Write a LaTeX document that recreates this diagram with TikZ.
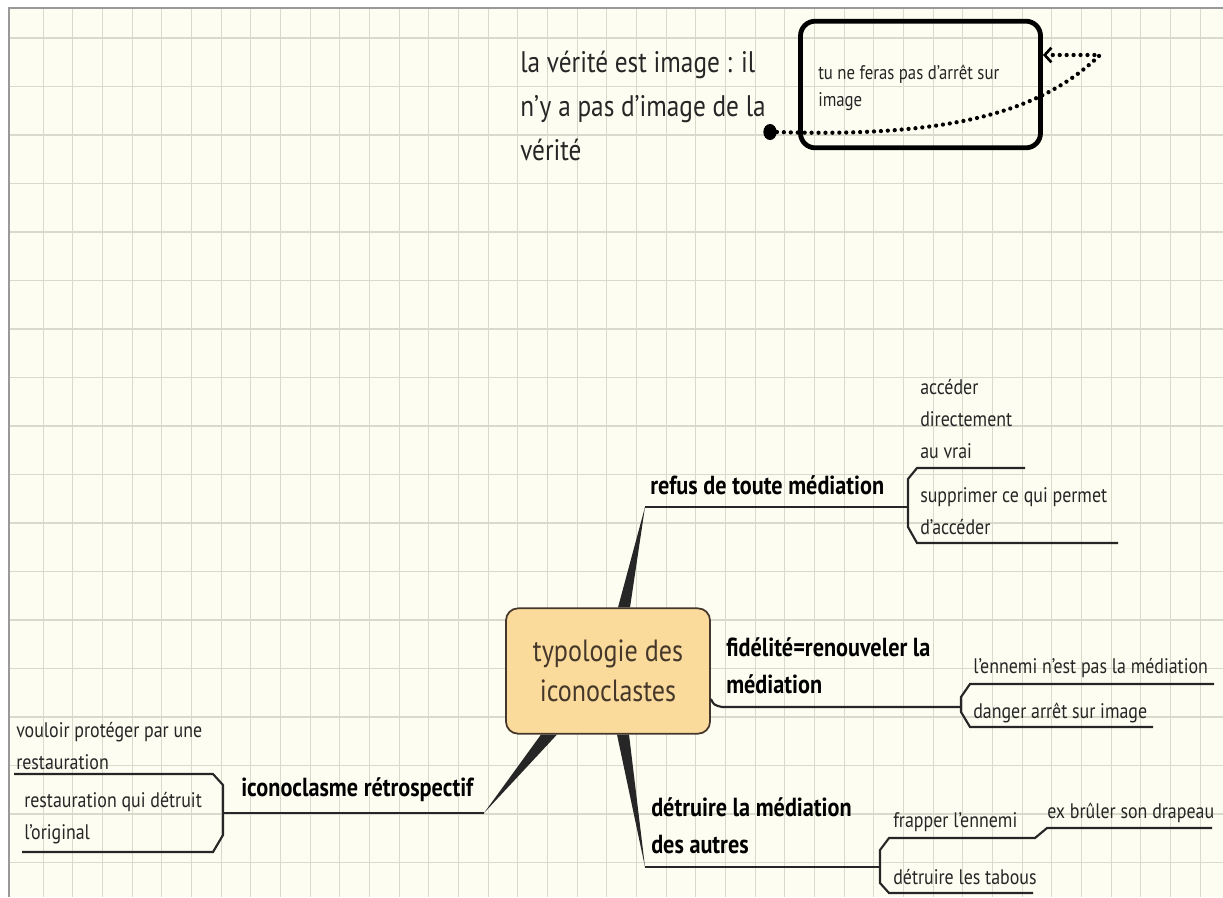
\documentclass[tikz,border=0pt]{standalone}
\usepackage{fontspec}
\setmainfont[FakeStretch=0.85]{PT Sans}
\usetikzlibrary{arrows.meta,shapes}
\definecolor{papier}{HTML}{FDFDF1}
\definecolor{grille}{HTML}{D8DBCB}
\definecolor{centre}{HTML}{FADB9C}
\definecolor{brun}{HTML}{45372A}
\definecolor{encre}{HTML}{262626}
\tikzstyle{feuille}=[anchor=west,inner sep=0pt,align=left,text=encre,font=\fontsize{15.8}{24}\selectfont]
\tikzstyle{branche}=[anchor=west,inner sep=0pt,align=left,text=black,font=\fontsize{19.6}{28}\selectfont\bfseries]
\tikzstyle{trait}=[draw=encre,line width=1.6pt]
\tikzstyle{coin}=[fill=encre]
\tikzstyle{typo}=[rectangle,rounded corners=9pt,draw=brun,line width=1.3pt,fill=centre,text=brun,align=center,minimum width=153pt,minimum height=94pt,font=\fontsize{23}{30}\selectfont]
\tikzstyle{cadre}=[rectangle,rounded corners=11pt,draw=black,line width=3.6pt,minimum width=180pt,minimum height=95pt]
\tikzstyle{pointille}=[line width=3.2pt,line cap=round,dash pattern=on 0pt off 5.2pt]

\begin{document}
\begin{tikzpicture}[x=0.75pt,y=-0.75pt]
\useasboundingbox (0,0) rectangle (1223,897);
% fond quadrille
\fill[papier] (9,8) rectangle (1223,897);
\foreach \i in {0,...,39} \draw[grille,line width=0.8pt] ({43.3+\i*29.66},8) -- ++(0,889);
\foreach \j in {0,...,17} \draw[grille,line width=0.8pt] (9,{38+\j*48.5}) -- ++(1214,0);
\draw[gray!80,line width=1.2pt] (9,897) -- (9,8) -- (1223,8);

% en haut
\node[anchor=west,inner sep=0pt,align=left,text=encre,font=\fontsize{22.3}{33}\selectfont] (verite) at (520,106) {la vérité est image : il\\n'y a pas d'image de la\\vérité};
\node[cadre] (arret) at (920.5,84.5) {};
\node[anchor=west,inner sep=0pt,align=left,text=encre,font=\fontsize{14.8}{20}\selectfont] (arrettxt) at (818,88) {tu ne feras pas d'arrêt sur\\image};
\node[ellipse,fill=black,inner sep=0pt,minimum width=10pt,minimum height=12pt] (point) at (770,132) {};
\coordinate (retour) at (1100,55);
\draw[pointille,-{Straight Barb[length=5pt,width=11pt,line width=2pt]}] (point.east) .. controls (960,138) and (1045,108) .. (retour) -- (arret.east |- retour);

% noeud central
\node[typo] (typo) at (608,671) {typologie des\\iconoclastes};

% refus de toute mediation
\coordinate (r0) at (645,507);
\coordinate (r1) at (908,507);
\fill[coin] (typo.north) ++(10,0) -- ++(12,0) -- (r0) -- cycle;
\draw[trait] (r0) -- (r1);
\draw[trait] (1025,468) -- (917,468) -- (908,479) -- (908,527) -- (917,543) -- (1118,543);
\node[branche] (refus) at (650,485) {refus de toute médiation};
\node[feuille] (acceder) at (920,419) {accéder\\directement\\au vrai};
\node[feuille] (supprimer) at (920,511) {supprimer ce qui permet\\d'accéder};

% fidelite
\coordinate (f0) at (722,707);
\coordinate (f1) at (961,707);
\draw[trait] (typo.east |- 0,699) .. controls (714,705) .. (f0) -- (f1);
\draw[trait] (1214,684) -- (970,684) -- (961,697) -- (961,712) -- (970,727) -- (1153,727);
\node[branche] (fidelite) at (726,666) {fidélité=renouveler la\\médiation};
\node[feuille] (ennemi) at (973,668) {l'ennemi n'est pas la médiation};
\node[feuille] (danger) at (973,713) {danger arrêt sur image};

% detruire la mediation des autres
\coordinate (d0) at (645,867);
\coordinate (d1) at (880,867);
\fill[coin] (typo.south) ++(9,0) -- ++(12,0) -- (d0) -- cycle;
\draw[trait] (d0) -- (d1);
\draw[trait] (1212,828) -- (1047,828) -- (1035,838) -- (889,838) -- (880,850) -- (880,883) -- (889,893) -- (1033,893);
\node[branche] (detruire) at (651,826) {détruire la médiation\\des autres};
\node[feuille] (frapper) at (893,822) {frapper l'ennemi};
\node[feuille] (drapeau) at (1047,813) {ex brûler son drapeau};
\node[feuille] (tabous) at (893,877) {détruire les tabous};

% iconoclasme retrospectif
\coordinate (i0) at (484,813);
\coordinate (i1) at (223,813);
\fill[coin] (typo.south) ++(-67,0) -- ++(16,0) -- (i0) -- cycle;
\draw[trait] (i0) -- (i1);
\draw[trait] (14,774) -- (213,774) -- (223,785) -- (223,835) -- (213,852) -- (22,852);
\node[branche] (retro) at (241,790) {iconoclasme rétrospectif};
\node[feuille] (proteger) at (16,746) {vouloir protéger par une\\restauration};
\node[feuille] (restaurer) at (24,818) {restauration qui détruit\\l'original};
\end{tikzpicture}
\end{document}
